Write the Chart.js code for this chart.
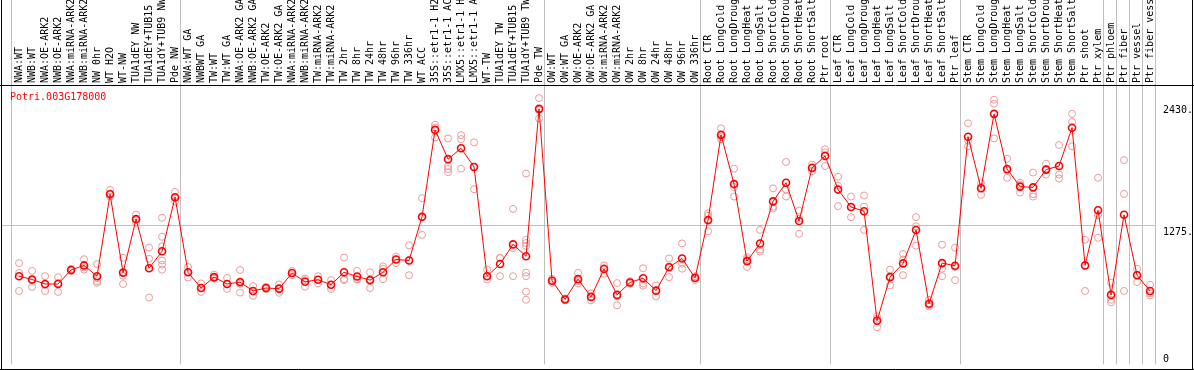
<!DOCTYPE html>
<html>
<head>
<meta charset="utf-8">
<script src="https://cdn.jsdelivr.net/npm/chart.js@4"></script>
<style>
  html, body { margin: 0; padding: 0; background: #fff; }
  canvas { display: block; }
</style>
</head>
<body>
<canvas id="exprchart" width="1194" height="370"></canvas>
<script>
const geneName = 'Potri.003G178000';

const samples = [
  'NWA:WT', 'NWB:WT', 'NWA:OE-ARK2', 'NWB:OE-ARK2', 'NWA:miRNA-ARK2', 'NWB:miRNA-ARK2',
  'NW 0hr', 'WT H2O', 'WT-NW', 'TUA1dEY NW', 'TUA1dEY+TUB15 NW', 'TUA1dY+TUB9 NW', 'Pde NW',
  'NWA:WT GA', 'NWBWT GA', 'TW:WT', 'TW:WT GA', 'NWA:OE-ARK2 GA', 'NWB:OE-ARK2 GA',
  'TW:OE-ARK2', 'TW:OE-ARK2 GA', 'NWA:miRNA-ARK2 GA', 'NWB:miRNA-ARK2 GA', 'TW:miRNA-ARK2',
  'TW:miRNA-ARK2 GA', 'TW 2hr', 'TW 8hr', 'TW 24hr', 'TW 48hr', 'TW 96hr', 'TW 336hr',
  'WT ACC', '35S::etr1-1 H2O', '35S::etr1-1 ACC', 'LMX5::etr1-1 H2O', 'LMX5::etr1-1 ACC',
  'WT-TW', 'TUA1dEY TW', 'TUA1dEY+TUB15 TW', 'TUA1dY+TUB9 TW', 'Pde TW',
  'OW:WT', 'OW:WT GA', 'OW:OE-ARK2', 'OW:OE-ARK2 GA', 'OW:miRNA-ARK2', 'OW:miRNA-ARK2 GA',
  'OW 2hr', 'OW 8hr', 'OW 24hr', 'OW 48hr', 'OW 96hr', 'OW 336hr',
  'Root CTR', 'Root LongCold', 'Root LongDrought', 'Root LongHeat', 'Root LongSalt',
  'Root ShortCold', 'Root ShortDrought', 'Root ShortHeat', 'Root ShortSalt', 'Ptr root',
  'Leaf CTR', 'Leaf LongCold', 'Leaf LongDrought', 'Leaf LongHeat', 'Leaf LongSalt',
  'Leaf ShortCold', 'Leaf ShortDrought', 'Leaf ShortHeat', 'Leaf ShortSalt', 'Ptr leaf',
  'Stem CTR', 'Stem LongCold', 'Stem LongDrought', 'Stem LongHeat', 'Stem LongSalt',
  'Stem ShortCold', 'Stem ShortDrought', 'Stem ShortHeat', 'Stem ShortSalt', 'Ptr shoot', 'Ptr xylem',
  'Ptr phloem', 'Ptr fiber', 'Ptr vessel', 'Ptr fiber vessel'
];

// number of samples in each block between the grey separators
const groupSizes = [13, 28, 12, 10, 10, 11, 1, 1, 1, 1];

const means = [
  797, 766, 723, 723, 856, 899, 797, 1573, 831, 1337, 872, 1033, 1545,
  834, 685, 788, 723, 741, 657, 685, 679, 827, 744, 763, 716, 834, 794, 760, 834, 955, 946,
  1359, 2182, 1905, 2008, 1831, 797, 912, 1098, 986, 2381,
  754, 577, 769, 601, 865, 620, 738, 778, 660, 881, 965, 781,
  1328, 2135, 1669, 940, 1107, 1505, 1682, 1319, 1822, 1936,
  1617, 1452, 1412, 375, 788, 918, 1235, 536, 921, 896,
  2117, 1629, 2334, 1812, 1645, 1638, 1806, 1840, 2203, 899, 1421,
  620, 1378, 806, 657
];

const replicates = [
  [921, 828, 657], [847, 756, 695], [797, 715, 657], [788, 733, 648], [866, 856, 846],
  [958, 880, 859], [912, 780, 750, 735], [1613, 1580, 1551], [971, 800, 723], [1381, 1337, 1303],
  [1067, 962, 595], [1350, 1170, 1080, 946, 906, 859], [1595, 1540, 1505],
  [884, 834, 785], [729, 685, 648], [812, 776, 776], [781, 723, 676], [856, 725, 642],
  [704, 657, 611], [695, 685, 675], [719, 679, 640], [847, 827, 807], [775, 760, 698],
  [797, 763, 729], [760, 713, 676], [974, 770, 760], [847, 770, 766], [834, 760, 685],
  [890, 866, 769], [983, 955, 921], [1089, 946, 806], [1536, 1359, 1188], [2231, 2205, 2110],
  [2101, 1837, 1812, 1781], [2132, 2095, 1815], [2064, 1831, 1620], [859, 797, 766],
  [971, 968, 797], [1434, 1063, 797], [1769, 1142, 1111, 1083, 831, 797, 651, 574],
  [2483, 2370, 2290],
  [772, 754, 735], [586, 577, 568], [828, 750, 729], [635, 601, 568], [899, 874, 822],
  [732, 607, 521], [750, 738, 726], [872, 729, 707], [710, 663, 607], [965, 890, 788],
  [1107, 915, 868], [797, 781, 760],
  [1393, 1369, 1222], [2197, 2115, 2093], [1815, 1641, 1551], [977, 959, 884], [1235, 1049, 1030],
  [1629, 1455, 1437], [1878, 1617, 1551], [1418, 1341, 1198], [1853, 1822, 1791], [1999, 1969, 1840],
  [1738, 1652, 1461], [1551, 1449, 1356], [1561, 1455, 1235], [418, 394, 313], [859, 795, 710],
  [1008, 955, 806], [1356, 1269, 1086], [573, 524, 511], [1095, 868, 797], [1067, 884, 760],
  [2244, 2080, 2027], [1676, 1644, 1567], [2467, 2430, 2101], [1909, 1799, 1728], [1682, 1664, 1589],
  [1778, 1573, 1551], [1862, 1810, 1759], [2039, 1759, 1722], [2334, 2259, 2027], [1142, 898, 657],
  [1728, 1375, 1160],
  [735, 574, 549], [1896, 1576, 657], [866, 811, 741], [716, 635, 614]
];

const yTicks = [0, 1275, 2430];
const yTickLabels = ['0', '1275.', '2430.'];
const yGridValues = [1275];

// separators are not exactly half way between two samples
const SEP_SHIFT = -0.62;
const GREY = '#c0c0c0';
const MONO = 'DejaVu Sans Mono';

function separatorValues() {
  const out = [SEP_SHIFT];
  let pos = 0;
  groupSizes.forEach(n => {
    pos += n;
    out.push(pos + SEP_SHIFT);
  });
  return out;
}

const meanPoints = means.map((v, i) => ({ x: i, y: v }));
const repPoints = [];
replicates.forEach((reps, i) => {
  reps.forEach(v => repPoints.push({ x: i, y: v }));
});

// frame, gene name and the value labels on the right
const framePlugin = {
  id: 'frame',
  afterDraw(chart) {
    const ctx = chart.ctx;
    const area = chart.chartArea;
    const yScale = chart.scales.y;
    ctx.save();
    ctx.strokeStyle = '#000';
    ctx.lineWidth = 1;
    ctx.beginPath();
    ctx.moveTo(1.5, 0); ctx.lineTo(1.5, 370);
    ctx.moveTo(1192.5, 0); ctx.lineTo(1192.5, 370);
    ctx.moveTo(0, 85.5); ctx.lineTo(1194, 85.5);
    ctx.moveTo(0, 369.5); ctx.lineTo(1194, 369.5);
    ctx.stroke();

    ctx.font = '10px "' + MONO + '"';
    ctx.textBaseline = 'top';
    ctx.textAlign = 'left';
    ctx.fillStyle = '#ff0000';
    ctx.fillText(geneName, 10, 92);

    ctx.fillStyle = '#000';
    yTicks.forEach((v, i) => {
      let py = Math.round(yScale.getPixelForValue(v)) + 1;
      py = Math.min(py, area.bottom - 10);
      ctx.fillText(yTickLabels[i], area.right + 8, py);
    });
    ctx.restore();
  }
};

const ctx = document.getElementById('exprchart').getContext('2d');

const exprchart = new Chart(ctx, {
  type: 'line',
  data: {
    datasets: [
      {
        type: 'line',
        label: 'mean',
        data: meanPoints,
        borderColor: '#ff0000',
        borderWidth: 1,
        tension: 0,
        pointRadius: 3.5,
        pointBorderWidth: 1.6,
        pointBorderColor: '#ff0000',
        pointBackgroundColor: 'rgba(0,0,0,0)',
        order: 1
      },
      {
        type: 'scatter',
        label: 'replicates',
        data: repPoints,
        pointRadius: 3.5,
        borderWidth: 1,
        borderColor: '#ec9a9a',
        backgroundColor: 'rgba(0,0,0,0)',
        order: 2
      }
    ]
  },
  options: {
    responsive: false,
    animation: false,
    devicePixelRatio: 1,
    events: [],
    layout: { padding: { left: 1, right: 39, top: 0, bottom: 1 } },
    plugins: {
      legend: { display: false },
      tooltip: { enabled: false },
      title: { display: false }
    },
    scales: {
      x: {
        type: 'linear',
        position: 'top',
        min: SEP_SHIFT,
        max: samples.length + SEP_SHIFT,
        afterBuildTicks: scale => {
          const t = samples.map((s, i) => ({ value: i }));
          separatorValues().forEach(v => t.push({ value: v }));
          t.sort((a, b) => a.value - b.value);
          scale.ticks = t;
        },
        afterFit: scale => { scale.height = 85; },
        ticks: {
          autoSkip: false,
          minRotation: 90,
          maxRotation: 90,
          padding: -83,
          labelOffset: 12,
          color: '#000',
          font: { family: MONO, size: 10 },
          callback: value => Number.isInteger(value) ? samples[value] : ''
        },
        grid: {
          drawTicks: true,
          tickLength: 85,
          lineWidth: 1,
          color: c => (c.tick && !Number.isInteger(c.tick.value)) ? GREY : 'rgba(0,0,0,0)'
        },
        border: { display: false }
      },
      y: {
        type: 'linear',
        position: 'left',
        min: -38,
        max: 2607,
        afterBuildTicks: scale => {
          scale.ticks = yTicks.map(v => ({ value: v }));
        },
        afterFit: scale => { scale.width = 10; },
        ticks: { display: false },
        grid: {
          tickLength: 10,
          color: c => (c.tick && yGridValues.includes(c.tick.value)) ? GREY : 'rgba(0,0,0,0)'
        },
        border: { display: false }
      }
    }
  },
  plugins: [framePlugin]
});
</script>
</body>
</html>
